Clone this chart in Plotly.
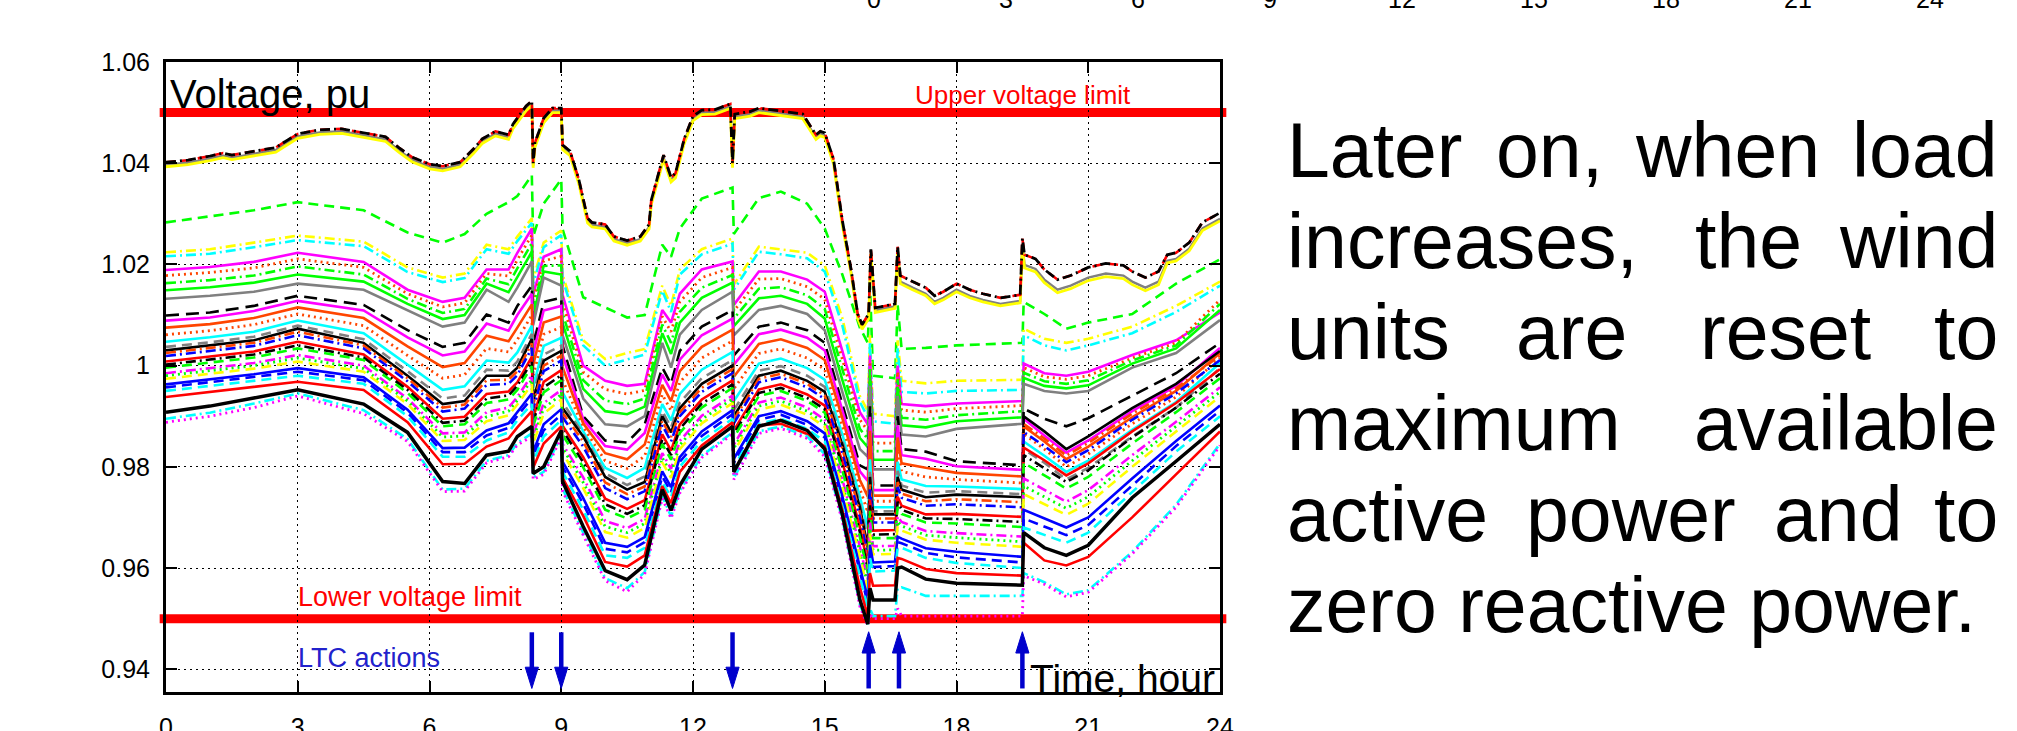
import plotly.graph_objects as go

# ---------------- data ----------------
LTC_DOWN = [8.33, 9.0, 12.9]
LTC_UP = [16.0, 16.69, 19.5]
LIMITS = [0.95, 1.05]
Y_TICKS = [0.94, 0.96, 0.98, 1.0, 1.02, 1.04, 1.06]
Y_TICK_TEXT = ["0.94", "0.96", "0.98", "1", "1.02", "1.04", "1.06"]
X_TICKS = [0, 3, 6, 9, 12, 15, 18, 21, 24]
UPPER_TICK_TEXT = ["0", "3", "6", "9", "12", "15", "18", "21", "24"]

T_TOP = [0, 0.5, 1, 1.3, 1.5, 2, 2.5, 2.7, 3, 3.5,
         4, 4.5, 5, 5.3, 5.6, 6, 6.3, 6.7, 7, 7.2,
         7.5, 7.8, 7.9, 8.0, 8.2, 8.33, 8.36, 8.4, 8.6, 8.8,
         9.0, 9.03, 9.2, 9.4, 9.6, 9.7, 10.0, 10.2, 10.5, 10.8,
         11.0, 11.05, 11.33, 11.5, 11.6, 11.8, 12.0, 12.2, 12.5, 12.85,
         12.9, 12.95, 13.3, 13.5, 14.0, 14.5, 14.8, 14.9, 15.0, 15.2,
         15.4, 15.6, 15.75, 15.85, 16.0, 16.05, 16.15, 16.6, 16.66, 16.72,
         17.0, 17.3, 17.5, 17.7, 18.0, 18.3, 18.6, 19.0, 19.45, 19.5,
         19.55, 19.8, 20.0, 20.3, 20.6, 21.0, 21.4, 21.8, 22.0, 22.3,
         22.6, 22.8, 23.0, 23.3, 23.6, 24.0]

TOP_BLACK = [1.0402, 1.0406, 1.0414, 1.0420, 1.0416, 1.0423, 1.0431, 1.0442, 1.0458, 1.0466,
             1.0468, 1.0460, 1.0452, 1.0431, 1.0412, 1.0398, 1.0394, 1.0402, 1.0428, 1.0448,
             1.0463, 1.0456, 1.0477, 1.0489, 1.0513, 1.0523, 1.0400, 1.0440, 1.0489, 1.0509,
             1.0509, 1.0436, 1.0424, 1.0368, 1.0291, 1.0283, 1.0279, 1.0255, 1.0247, 1.0255,
             1.0279, 1.0327, 1.0416, 1.0372, 1.0380, 1.0448, 1.0493, 1.0505, 1.0506, 1.0517,
             1.0400, 1.0497, 1.0502, 1.0509, 1.0503, 1.0497, 1.0456, 1.0463, 1.0460, 1.0408,
             1.0287, 1.0190, 1.0102, 1.0081, 1.0102, 1.0230, 1.0114, 1.0122, 1.0235, 1.0178,
             1.0166, 1.0154, 1.0138, 1.0146, 1.0162, 1.0150, 1.0142, 1.0134, 1.0140, 1.0251,
             1.0219, 1.0211, 1.0190, 1.0170, 1.0178, 1.0194, 1.0202, 1.0198, 1.0186, 1.0174,
             1.0186, 1.0219, 1.0223, 1.0243, 1.0283, 1.0302]

TOP_GRAY = [1.0397, 1.0401, 1.0409, 1.0415, 1.0411, 1.0418, 1.0426, 1.0437, 1.0453, 1.0461,
            1.0463, 1.0455, 1.0447, 1.0426, 1.0407, 1.0393, 1.0389, 1.0397, 1.0423, 1.0443,
            1.0458, 1.0451, 1.0472, 1.0484, 1.0508, 1.0518, 1.0395, 1.0435, 1.0484, 1.0504,
            1.0504, 1.0431, 1.0419, 1.0363, 1.0286, 1.0278, 1.0274, 1.0250, 1.0242, 1.0250,
            1.0274, 1.0322, 1.0411, 1.0367, 1.0375, 1.0443, 1.0488, 1.0500, 1.0501, 1.0512,
            1.0395, 1.0492, 1.0497, 1.0504, 1.0498, 1.0492, 1.0451, 1.0458, 1.0455, 1.0403,
            1.0282, 1.0185, 1.0097, 1.0076, 1.0097, 1.0225, 1.0109, 1.0117, 1.0230, 1.0166,
            1.0154, 1.0142, 1.0126, 1.0134, 1.0150, 1.0138, 1.0130, 1.0122, 1.0128, 1.0240,
            1.0199, 1.0191, 1.0170, 1.0150, 1.0158, 1.0174, 1.0182, 1.0178, 1.0166, 1.0154,
            1.0166, 1.0207, 1.0211, 1.0231, 1.0271, 1.0290]

TOP_YELLOW = [1.0393, 1.0397, 1.0405, 1.0411, 1.0407, 1.0414, 1.0422, 1.0433, 1.0449, 1.0457,
              1.0459, 1.0451, 1.0443, 1.0422, 1.0403, 1.0389, 1.0385, 1.0393, 1.0419, 1.0439,
              1.0454, 1.0447, 1.0468, 1.0480, 1.0504, 1.0514, 1.0391, 1.0431, 1.0480, 1.0500,
              1.0500, 1.0427, 1.0415, 1.0359, 1.0282, 1.0274, 1.0270, 1.0246, 1.0238, 1.0246,
              1.0270, 1.0318, 1.0407, 1.0363, 1.0371, 1.0439, 1.0484, 1.0496, 1.0497, 1.0508,
              1.0391, 1.0488, 1.0493, 1.0500, 1.0494, 1.0488, 1.0447, 1.0454, 1.0451, 1.0399,
              1.0278, 1.0181, 1.0093, 1.0072, 1.0093, 1.0221, 1.0105, 1.0113, 1.0226, 1.0162,
              1.0150, 1.0138, 1.0122, 1.0130, 1.0146, 1.0134, 1.0126, 1.0118, 1.0124, 1.0235,
              1.0193, 1.0185, 1.0164, 1.0144, 1.0152, 1.0168, 1.0176, 1.0172, 1.0160, 1.0148,
              1.0160, 1.0203, 1.0207, 1.0227, 1.0267, 1.0286]

TL = [0, 1, 2, 3, 4.5, 5.5, 6.3, 6.8, 7.3, 7.8,
      8.0, 8.33, 8.36, 8.6, 9.0, 9.03, 9.5, 10.0, 10.5, 10.9,
      11.3, 11.5, 11.7, 12.2, 12.9, 12.93, 13.5, 14.0, 14.6, 15.0,
      15.4, 15.8, 15.98, 16.03, 16.1, 16.6, 16.66, 16.75, 17.3, 18.0,
      19.5, 19.53, 20.0, 20.5, 21.0, 22.0, 23.0, 24.0]

GREEN_DASH = [1.0283, 1.0295, 1.0307, 1.0323, 1.0307, 1.0263, 1.0243, 1.0260, 1.0300, 1.0323,
              1.0335, 1.0376, 1.0255, 1.0320, 1.0368, 1.0270, 1.0135, 1.0115, 1.0095, 1.0100,
              1.0239, 1.0215, 1.0271, 1.0330, 1.0352, 1.0260, 1.0331, 1.0344, 1.0320, 1.0271,
              1.0180, 1.0075, 1.0045, 1.0160, 0.9980, 0.9975, 1.0120, 1.0033, 1.0035, 1.0040,
              1.0045, 1.0126, 1.0102, 1.0073, 1.0085, 1.0102, 1.0162, 1.0210]
YELLOW_DD = [1.0224, 1.0230, 1.0243, 1.0257, 1.0245, 1.0194, 1.0174, 1.0182, 1.0239, 1.0230,
             1.0255, 1.0291, 1.0170, 1.0243, 1.0267, 1.0180, 1.0050, 1.0013, 1.0025, 1.0033,
             1.0158, 1.0118, 1.0190, 1.0230, 1.0251, 1.0160, 1.0235, 1.0230, 1.0223, 1.0198,
             1.0094, 0.9940, 0.9910, 1.0060, 0.9905, 0.9900, 1.0050, 0.9970, 0.9965, 0.9970,
             0.9972, 1.0073, 1.0053, 1.0045, 1.0053, 1.0077, 1.0118, 1.0166]
CYAN_DD = [1.0216, 1.0221, 1.0234, 1.0248, 1.0236, 1.0185, 1.0165, 1.0173, 1.0230, 1.0221,
           1.0246, 1.0282, 1.0161, 1.0234, 1.0258, 1.0171, 1.0040, 1.0000, 1.0012, 1.0022,
           1.0148, 1.0106, 1.0180, 1.0220, 1.0241, 1.0150, 1.0225, 1.0220, 1.0212, 1.0186,
           1.0080, 0.9928, 0.9898, 1.0048, 0.9890, 0.9885, 1.0035, 0.9948, 0.9945, 0.9950,
           0.9952, 1.0060, 1.0040, 1.0030, 1.0040, 1.0064, 1.0106, 1.0158]
MAGENTA_A = [1.0189, 1.0195, 1.0205, 1.0223, 1.0205, 1.0150, 1.0126, 1.0134, 1.0190, 1.0190,
             1.0223, 1.0271, 1.0140, 1.0215, 1.0230, 1.0140, 1.0000, 0.9970, 0.9960, 0.9964,
             1.0110, 1.0085, 1.0142, 1.0190, 1.0206, 1.0120, 1.0186, 1.0186, 1.0170, 1.0146,
             1.0029, 0.9908, 0.9884, 1.0020, 0.9860, 0.9860, 1.0000, 0.9924, 0.9920, 0.9925,
             0.9930, 1.0004, 0.9985, 0.9980, 0.9988, 1.0021, 1.0050, 1.0105]
ORANGE_DOT_A = [1.0178, 1.0184, 1.0193, 1.0211, 1.0194, 1.0142, 1.0116, 1.0124, 1.0182, 1.0177,
                1.0209, 1.0258, 1.0128, 1.0207, 1.0216, 1.0124, 0.9987, 0.9953, 0.9944, 0.9951,
                1.0097, 1.0067, 1.0126, 1.0174, 1.0194, 1.0108, 1.0171, 1.0172, 1.0156, 1.0131,
                1.0013, 0.9893, 0.9871, 1.0008, 0.9847, 0.9847, 0.9988, 0.9912, 0.9908, 0.9915,
                0.9921, 0.9996, 0.9978, 0.9973, 0.9980, 1.0015, 1.0045, 1.0130]
GREEN_DD = [1.0163, 1.0169, 1.0178, 1.0196, 1.0180, 1.0132, 1.0104, 1.0112, 1.0172, 1.0161,
            1.0192, 1.0242, 1.0113, 1.0197, 1.0198, 1.0104, 0.9971, 0.9931, 0.9924, 0.9935,
            1.0081, 1.0045, 1.0106, 1.0154, 1.0179, 1.0093, 1.0152, 1.0155, 1.0139, 1.0112,
            0.9993, 0.9875, 0.9855, 0.9993, 0.9831, 0.9831, 0.9973, 0.9897, 0.9893, 0.9902,
            0.9910, 0.9986, 0.9969, 0.9964, 0.9971, 1.0010, 1.0040, 1.0122]
GREEN_SOLID = [1.0149, 1.0155, 1.0164, 1.0180, 1.0166, 1.0122, 1.0092, 1.0100, 1.0162, 1.0145,
               1.0175, 1.0225, 1.0098, 1.0186, 1.0180, 1.0084, 0.9954, 0.9910, 0.9904, 0.9919,
               1.0064, 1.0023, 1.0085, 1.0134, 1.0164, 1.0078, 1.0133, 1.0138, 1.0122, 1.0093,
               0.9972, 0.9857, 0.9839, 0.9978, 0.9814, 0.9814, 0.9958, 0.9882, 0.9878, 0.9890,
               0.9898, 0.9976, 0.9960, 0.9955, 0.9961, 1.0004, 1.0034, 1.0110]
GRAY_SOLID = [1.0132, 1.0138, 1.0146, 1.0162, 1.0150, 1.0110, 1.0077, 1.0085, 1.0150, 1.0126,
              1.0154, 1.0206, 1.0080, 1.0174, 1.0158, 1.0060, 0.9935, 0.9884, 0.9880, 0.9900,
              1.0045, 0.9996, 1.0061, 1.0110, 1.0146, 1.0060, 1.0110, 1.0118, 1.0102, 1.0070,
              0.9948, 0.9835, 0.9820, 0.9960, 0.9795, 0.9795, 0.9940, 0.9864, 0.9860, 0.9875,
              0.9885, 0.9964, 0.9950, 0.9945, 0.9950, 0.9996, 1.0025, 1.0090]
BLACK_DASH = [1.0099, 1.0105, 1.0118, 1.0138, 1.0120, 1.0070, 1.0037, 1.0045, 1.0101, 1.0085,
              1.0118, 1.0158, 1.0040, 1.0126, 1.0134, 1.0040, 0.9900, 0.9852, 0.9848, 0.9884,
              0.9996, 0.9964, 1.0029, 1.0077, 1.0110, 1.0020, 1.0077, 1.0085, 1.0070, 1.0045,
              0.9924, 0.9803, 0.9795, 0.9920, 0.9763, 0.9763, 0.9900, 0.9835, 0.9830, 0.9811,
              0.9803, 0.9915, 0.9895, 0.9880, 0.9896, 0.9940, 0.9985, 1.0045]
MAGENTA_B = [1.0089, 1.0095, 1.0108, 1.0128, 1.0109, 1.0056, 1.0020, 1.0028, 1.0083, 1.0069,
             1.0100, 1.0142, 1.0023, 1.0109, 1.0118, 1.0021, 0.9894, 0.9841, 0.9834, 0.9867,
             0.9982, 0.9950, 1.0012, 1.0060, 1.0093, 1.0002, 1.0062, 1.0071, 1.0055, 1.0030,
             0.9912, 0.9791, 0.9772, 0.9899, 0.9754, 0.9754, 0.9882, 0.9823, 0.9816, 0.9801,
             0.9794, 0.9895, 0.9862, 0.9828, 0.9852, 0.9910, 0.9960, 1.0035]
ORANGE_SOLID = [1.0075, 1.0082, 1.0094, 1.0115, 1.0094, 1.0038, 0.9997, 1.0005, 1.0059, 1.0048,
                1.0075, 1.0121, 1.0001, 1.0085, 1.0097, 0.9997, 0.9886, 0.9827, 0.9815, 0.9844,
                0.9962, 0.9930, 0.9989, 1.0037, 1.0071, 0.9978, 1.0043, 1.0052, 1.0035, 1.0011,
                0.9896, 0.9774, 0.9741, 0.9871, 0.9743, 0.9743, 0.9858, 0.9807, 0.9798, 0.9788,
                0.9781, 0.9880, 0.9850, 0.9815, 0.9840, 0.9898, 0.9950, 1.0025]
ORANGE_DOT_B = [1.0061, 1.0069, 1.0081, 1.0102, 1.0079, 1.0020, 0.9975, 0.9982, 1.0034, 1.0027,
                1.0051, 1.0100, 0.9979, 1.0062, 1.0076, 0.9972, 0.9878, 0.9812, 0.9797, 0.9821,
                0.9943, 0.9911, 0.9967, 1.0015, 1.0049, 0.9954, 1.0024, 1.0033, 1.0015, 0.9992,
                0.9880, 0.9757, 0.9710, 0.9843, 0.9732, 0.9732, 0.9834, 0.9791, 0.9780, 0.9775,
                0.9768, 0.9865, 0.9835, 0.9800, 0.9825, 0.9885, 0.9938, 1.0015]
CYAN_SOLID = [1.0047, 1.0056, 1.0067, 1.0089, 1.0064, 1.0002, 0.9952, 0.9959, 1.0010, 1.0006,
              1.0026, 1.0079, 0.9957, 1.0039, 1.0055, 0.9947, 0.9870, 0.9798, 0.9778, 0.9798,
              0.9924, 0.9892, 0.9944, 0.9992, 1.0027, 0.9930, 1.0004, 1.0014, 0.9995, 0.9972,
              0.9864, 0.9741, 0.9679, 0.9815, 0.9720, 0.9720, 0.9810, 0.9775, 0.9762, 0.9761,
              0.9756, 0.9850, 0.9822, 0.9790, 0.9812, 0.9873, 0.9928, 1.0005]
GRAY_DASH = [1.0037, 1.0046, 1.0057, 1.0079, 1.0052, 0.9989, 0.9935, 0.9941, 0.9992, 0.9990,
             1.0008, 1.0063, 0.9941, 1.0022, 1.0039, 0.9928, 0.9864, 0.9787, 0.9764, 0.9781,
             0.9910, 0.9878, 0.9927, 0.9975, 1.0011, 0.9912, 0.9990, 0.9999, 0.9980, 0.9958,
             0.9852, 0.9728, 0.9655, 0.9794, 0.9712, 0.9712, 0.9792, 0.9763, 0.9749, 0.9752,
             0.9746, 0.9835, 0.9808, 0.9775, 0.9798, 0.9860, 0.9917, 0.9995]
BLACK_SOLID = [1.0030, 1.0040, 1.0050, 1.0073, 1.0045, 0.9980, 0.9924, 0.9930, 0.9980, 0.9980,
               0.9996, 1.0053, 0.9930, 1.0010, 1.0029, 0.9916, 0.9860, 0.9780, 0.9755, 0.9770,
               0.9900, 0.9868, 0.9916, 0.9964, 1.0000, 0.9900, 0.9980, 0.9990, 0.9970, 0.9948,
               0.9844, 0.9720, 0.9640, 0.9780, 0.9706, 0.9706, 0.9780, 0.9755, 0.9740, 0.9745,
               0.9740, 0.9900, 0.9870, 0.9835, 0.9860, 0.9916, 0.9964, 1.0029]
ORANGE_DD = [1.0025, 1.0035, 1.0045, 1.0067, 1.0040, 0.9975, 0.9917, 0.9923, 0.9971, 0.9972,
             0.9989, 1.0044, 0.9922, 1.0000, 1.0020, 0.9907, 0.9850, 0.9769, 0.9746, 0.9761,
             0.9891, 0.9859, 0.9908, 0.9956, 0.9993, 0.9893, 0.9974, 0.9984, 0.9964, 0.9941,
             0.9836, 0.9710, 0.9632, 0.9769, 0.9698, 0.9698, 0.9770, 0.9747, 0.9732, 0.9736,
             0.9730, 0.9885, 0.9856, 0.9822, 0.9847, 0.9905, 0.9955, 1.0020]
BLUE_DD = [1.0019, 1.0029, 1.0039, 1.0060, 1.0034, 0.9969, 0.9909, 0.9915, 0.9962, 0.9964,
           0.9981, 1.0035, 0.9913, 0.9989, 1.0010, 0.9898, 0.9840, 0.9758, 0.9736, 0.9752,
           0.9882, 0.9850, 0.9900, 0.9948, 0.9985, 0.9886, 0.9967, 0.9977, 0.9957, 0.9934,
           0.9827, 0.9700, 0.9623, 0.9758, 0.9690, 0.9690, 0.9760, 0.9739, 0.9723, 0.9726,
           0.9720, 0.9869, 0.9841, 0.9809, 0.9833, 0.9893, 0.9945, 1.0011]
RED_A = [1.0008, 1.0018, 1.0028, 1.0047, 1.0022, 0.9958, 0.9895, 0.9899, 0.9944, 0.9949,
         0.9967, 1.0017, 0.9896, 0.9968, 0.9991, 0.9881, 0.9819, 0.9737, 0.9717, 0.9734,
         0.9864, 0.9832, 0.9884, 0.9933, 0.9971, 0.9872, 0.9953, 0.9963, 0.9943, 0.9921,
         0.9810, 0.9681, 0.9606, 0.9735, 0.9674, 0.9675, 0.9741, 0.9723, 0.9706, 0.9707,
         0.9701, 0.9838, 0.9813, 0.9783, 0.9807, 0.9870, 0.9926, 0.9993]
BLACK_DD = [1.0002, 1.0012, 1.0022, 1.0040, 1.0016, 0.9952, 0.9887, 0.9891, 0.9935, 0.9941,
            0.9960, 1.0008, 0.9888, 0.9957, 0.9981, 0.9872, 0.9809, 0.9726, 0.9707, 0.9724,
            0.9854, 0.9823, 0.9875, 0.9925, 0.9963, 0.9865, 0.9946, 0.9956, 0.9936, 0.9914,
            0.9801, 0.9671, 0.9598, 0.9724, 0.9666, 0.9667, 0.9731, 0.9715, 0.9698, 0.9697,
            0.9691, 0.9823, 0.9798, 0.9770, 0.9793, 0.9858, 0.9917, 0.9984]
GREEN_DASH_B = [0.9996, 1.0006, 1.0016, 1.0034, 1.0011, 0.9946, 0.9880, 0.9884, 0.9926, 0.9933,
                0.9952, 0.9999, 0.9880, 0.9947, 0.9971, 0.9863, 0.9799, 0.9715, 0.9698, 0.9715,
                0.9845, 0.9814, 0.9867, 0.9917, 0.9956, 0.9858, 0.9940, 0.9950, 0.9930, 0.9907,
                0.9793, 0.9661, 0.9590, 0.9713, 0.9659, 0.9659, 0.9721, 0.9707, 0.9690, 0.9688,
                0.9681, 0.9808, 0.9784, 0.9757, 0.9780, 0.9846, 0.9908, 0.9975]
MAGENTA_DD = [0.9985, 0.9995, 1.0005, 1.0021, 1.0000, 0.9935, 0.9866, 0.9868, 0.9908, 0.9917,
              0.9938, 0.9981, 0.9863, 0.9926, 0.9952, 0.9845, 0.9779, 0.9693, 0.9679, 0.9697,
              0.9827, 0.9796, 0.9851, 0.9901, 0.9941, 0.9844, 0.9927, 0.9937, 0.9917, 0.9893,
              0.9776, 0.9642, 0.9573, 0.9690, 0.9643, 0.9644, 0.9702, 0.9691, 0.9673, 0.9669,
              0.9662, 0.9777, 0.9755, 0.9731, 0.9754, 0.9823, 0.9889, 0.9957]
GREEN_DOT = [0.9980, 0.9990, 1.0000, 1.0015, 0.9994, 0.9930, 0.9859, 0.9861, 0.9899, 0.9910,
             0.9931, 0.9972, 0.9855, 0.9916, 0.9943, 0.9837, 0.9769, 0.9682, 0.9670, 0.9688,
             0.9818, 0.9787, 0.9843, 0.9894, 0.9934, 0.9837, 0.9920, 0.9930, 0.9910, 0.9886,
             0.9768, 0.9632, 0.9565, 0.9679, 0.9635, 0.9636, 0.9692, 0.9683, 0.9665, 0.9660,
             0.9652, 0.9762, 0.9741, 0.9718, 0.9741, 0.9812, 0.9880, 0.9948]
YELLOW_DASH = [0.9974, 0.9984, 0.9994, 1.0008, 0.9988, 0.9924, 0.9851, 0.9853, 0.9890, 0.9902,
               0.9923, 0.9963, 0.9846, 0.9905, 0.9933, 0.9828, 0.9758, 0.9671, 0.9660, 0.9679,
               0.9809, 0.9778, 0.9835, 0.9886, 0.9926, 0.9830, 0.9913, 0.9923, 0.9903, 0.9879,
               0.9759, 0.9622, 0.9556, 0.9668, 0.9627, 0.9628, 0.9682, 0.9674, 0.9656, 0.9650,
               0.9642, 0.9746, 0.9726, 0.9705, 0.9727, 0.9800, 0.9870, 0.9939]
BLUE_SOLID = [0.9963, 0.9973, 0.9983, 0.9995, 0.9977, 0.9913, 0.9837, 0.9838, 0.9872, 0.9886,
              0.9909, 0.9945, 0.9829, 0.9884, 0.9914, 0.9810, 0.9738, 0.9650, 0.9642, 0.9661,
              0.9791, 0.9760, 0.9819, 0.9870, 0.9912, 0.9816, 0.9900, 0.9910, 0.9890, 0.9866,
              0.9742, 0.9602, 0.9539, 0.9646, 0.9611, 0.9613, 0.9662, 0.9658, 0.9639, 0.9632,
              0.9622, 0.9715, 0.9698, 0.9680, 0.9700, 0.9777, 0.9851, 0.9921]
BLUE_DASH = [0.9957, 0.9967, 0.9977, 0.9988, 0.9971, 0.9907, 0.9829, 0.9829, 0.9862, 0.9877,
             0.9901, 0.9935, 0.9820, 0.9872, 0.9903, 0.9800, 0.9727, 0.9638, 0.9631, 0.9651,
             0.9781, 0.9750, 0.9810, 0.9861, 0.9904, 0.9808, 0.9893, 0.9903, 0.9883, 0.9858,
             0.9733, 0.9591, 0.9530, 0.9633, 0.9602, 0.9604, 0.9651, 0.9649, 0.9630, 0.9621,
             0.9611, 0.9698, 0.9682, 0.9665, 0.9685, 0.9764, 0.9841, 0.9911]
CYAN_DASH = [0.9950, 0.9960, 0.9970, 0.9980, 0.9964, 0.9900, 0.9820, 0.9820, 0.9852, 0.9868,
             0.9892, 0.9924, 0.9810, 0.9860, 0.9892, 0.9790, 0.9715, 0.9625, 0.9620, 0.9640,
             0.9770, 0.9740, 0.9800, 0.9852, 0.9895, 0.9800, 0.9885, 0.9895, 0.9875, 0.9850,
             0.9723, 0.9580, 0.9520, 0.9620, 0.9593, 0.9595, 0.9640, 0.9640, 0.9620, 0.9610,
             0.9600, 0.9680, 0.9665, 0.9650, 0.9670, 0.9750, 0.9830, 0.9900]
RED_B = [0.9938, 0.9948, 0.9958, 0.9968, 0.9952, 0.9888, 0.9805, 0.9806, 0.9840, 0.9856,
         0.9878, 0.9910, 0.9798, 0.9846, 0.9880, 0.9778, 0.9703, 0.9612, 0.9603, 0.9625,
         0.9762, 0.9728, 0.9790, 0.9842, 0.9888, 0.9790, 0.9882, 0.9885, 0.9865, 0.9840,
         0.9715, 0.9562, 0.9505, 0.9590, 0.9565, 0.9566, 0.9620, 0.9618, 0.9598, 0.9590,
         0.9585, 0.9650, 0.9615, 0.9605, 0.9622, 0.9700, 0.9785, 0.9870]
BLACK_BOTTOM = [0.9908, 0.9920, 0.9936, 0.9952, 0.9924, 0.9868, 0.9771, 0.9767, 0.9823, 0.9831,
                0.9860, 0.9880, 0.9787, 0.9800, 0.9872, 0.9771, 0.9682, 0.9595, 0.9577, 0.9606,
                0.9755, 0.9714, 0.9763, 0.9835, 0.9880, 0.9790, 0.9880, 0.9892, 0.9872, 0.9835,
                0.9706, 0.9537, 0.9489, 0.9560, 0.9537, 0.9537, 0.9600, 0.9602, 0.9578, 0.9570,
                0.9566, 0.9670, 0.9640, 0.9625, 0.9645, 0.9739, 0.9811, 0.9884]
CYAN_BOTTOM = [0.9895, 0.9907, 0.9925, 0.9945, 0.9912, 0.9855, 0.9755, 0.9757, 0.9812, 0.9823,
               0.9847, 0.9866, 0.9779, 0.9790, 0.9862, 0.9757, 0.9670, 0.9580, 0.9560, 0.9592,
               0.9742, 0.9702, 0.9752, 0.9822, 0.9868, 0.9778, 0.9870, 0.9880, 0.9860, 0.9825,
               0.9697, 0.9528, 0.9489, 0.9520, 0.9505, 0.9505, 0.9560, 0.9562, 0.9545, 0.9545,
               0.9545, 0.9590, 0.9572, 0.9548, 0.9556, 0.9632, 0.9725, 0.9846]
MAGENTA_BOTTOM = [0.9888, 0.9900, 0.9917, 0.9940, 0.9905, 0.9850, 0.9751, 0.9752, 0.9808, 0.9820,
                  0.9843, 0.9860, 0.9775, 0.9785, 0.9858, 0.9752, 0.9665, 0.9575, 0.9553, 0.9588,
                  0.9738, 0.9698, 0.9748, 0.9818, 0.9865, 0.9775, 0.9866, 0.9876, 0.9856, 0.9820,
                  0.9693, 0.9524, 0.9486, 0.9510, 0.9500, 0.9500, 0.9520, 0.9505, 0.9505, 0.9505,
                  0.9505, 0.9585, 0.9568, 0.9543, 0.9552, 0.9628, 0.9720, 0.9842]

# ---------------- styles ----------------
GREEN, YELLOW, CYAN, MAGENTA = "#00ff00", "#ffff00", "#00ffff", "#ff00ff"
ORANGE, GRAY, BLACK, BLUE, RED = "#ff4500", "#808080", "#000000", "#0000ff", "#ff0000"
DASHES = {"solid": "solid", "dash": "10px,6px", "dot": "2px,4px",
          "dashdot": "10px,4px,2px,4px", "long": "13px,7px"}
LW = 2.6

LOWER = [
    (GREEN_DASH, GREEN, "dash", LW), (YELLOW_DD, YELLOW, "dashdot", LW),
    (CYAN_DD, CYAN, "dashdot", LW), (MAGENTA_A, MAGENTA, "solid", LW),
    (ORANGE_DOT_A, ORANGE, "dot", 2.8), (GREEN_DD, GREEN, "dashdot", LW),
    (GREEN_SOLID, GREEN, "solid", LW), (GRAY_SOLID, GRAY, "solid", LW),
    (BLACK_DASH, BLACK, "long", LW), (MAGENTA_B, MAGENTA, "solid", LW),
    (ORANGE_SOLID, ORANGE, "solid", LW), (ORANGE_DOT_B, ORANGE, "dot", 2.8),
    (CYAN_SOLID, CYAN, "solid", LW), (GRAY_DASH, GRAY, "dash", LW),
    (BLACK_SOLID, BLACK, "solid", LW), (ORANGE_DD, ORANGE, "dashdot", LW),
    (BLUE_DD, BLUE, "dashdot", LW), (RED_A, RED, "solid", LW),
    (BLACK_DD, BLACK, "dashdot", LW), (GREEN_DASH_B, GREEN, "dash", LW),
    (MAGENTA_DD, MAGENTA, "dashdot", LW), (GREEN_DOT, GREEN, "dot", 2.8),
    (YELLOW_DASH, YELLOW, "dash", LW), (BLUE_SOLID, BLUE, "solid", LW),
    (BLUE_DASH, BLUE, "dash", LW), (CYAN_DASH, CYAN, "dash", LW),
    (RED_B, RED, "solid", LW), (CYAN_BOTTOM, CYAN, "dashdot", LW),
    (MAGENTA_BOTTOM, MAGENTA, "dot", 2.8), (BLACK_BOTTOM, BLACK, "solid", 3.5),
]
TOP = [
    (TOP_GRAY, GRAY, "solid", 2.4), (TOP_YELLOW, YELLOW, "solid", 2.8),
    (TOP_BLACK, RED, "dash", 2.6), (TOP_BLACK, BLACK, "dashdot", 2.8),
]

for vals, *_ in LOWER:
    assert len(vals) == len(TL), len(vals)
for vals, *_ in TOP:
    assert len(vals) == len(T_TOP), len(vals)

fig = go.Figure()
for vals, color, dash, w in LOWER:
    fig.add_trace(go.Scatter(x=TL, y=vals, mode="lines", hoverinfo="skip",
                             line=dict(color=color, dash=DASHES[dash], width=w)))
for vals, color, dash, w in TOP:
    fig.add_trace(go.Scatter(x=T_TOP, y=vals, mode="lines", hoverinfo="skip",
                             line=dict(color=color, dash=DASHES[dash], width=w)))

# plot box in pixels
L_PX, R_PX, T_PX, B_PX = 166, 1220, 62, 692
W, H = 2017, 731


def px_x(px):
    return (px - L_PX) / (R_PX - L_PX)


def px_y(py):
    return 1 - (py - T_PX) / (B_PX - T_PX)


shapes = []
for lim in LIMITS:
    shapes.append(dict(type="line", xref="paper", yref="y", x0=-0.006, x1=1.006,
                       y0=lim, y1=lim, line=dict(color=RED, width=9), layer="below"))

ARROW_BLUE = "#0000cc"
HALF = 0.15
for x in LTC_DOWN:
    shapes.append(dict(type="line", xref="x", yref="y", x0=x, x1=x, y0=0.9473, y1=0.9400,
                       line=dict(color=ARROW_BLUE, width=4.5)))
    shapes.append(dict(type="path", xref="x", yref="y",
                       path=f"M {x-HALF},0.9404 L {x+HALF},0.9404 L {x},0.9362 Z",
                       fillcolor=ARROW_BLUE, line=dict(color=ARROW_BLUE, width=1)))
for x in LTC_UP:
    shapes.append(dict(type="line", xref="x", yref="y", x0=x, x1=x, y0=0.9362, y1=0.9436,
                       line=dict(color=ARROW_BLUE, width=4.5)))
    shapes.append(dict(type="path", xref="x", yref="y",
                       path=f"M {x-HALF},0.9432 L {x+HALF},0.9432 L {x},0.9474 Z",
                       fillcolor=ARROW_BLUE, line=dict(color=ARROW_BLUE, width=1)))

FONT = "Liberation Sans, Arial, sans-serif"
ann = []
ann.append(dict(text="Voltage, pu", xref="paper", yref="paper", x=px_x(168), y=px_y(94),
                xanchor="left", yanchor="middle", showarrow=False,
                font=dict(family=FONT, size=40, color="black")))
ann.append(dict(text="Time, hour", xref="paper", yref="paper", x=px_x(1217), y=px_y(678),
                xanchor="right", yanchor="middle", showarrow=False,
                font=dict(family=FONT, size=39, color="black")))
ann.append(dict(text="Upper voltage limit", xref="x", yref="y", x=17.0, y=1.0534,
                xanchor="left", yanchor="middle", showarrow=False,
                font=dict(family=FONT, size=26, color=RED)))
ann.append(dict(text="Lower voltage limit", xref="x", yref="y", x=2.95, y=0.9543,
                xanchor="left", yanchor="middle", showarrow=False,
                font=dict(family=FONT, size=27, color=RED)))
ann.append(dict(text="LTC actions", xref="x", yref="y", x=2.95, y=0.9423,
                xanchor="left", yanchor="middle", showarrow=False,
                font=dict(family=FONT, size=27, color="#2222cc")))

# tick labels of the chart above (cut off at the top edge)
for i, lab in enumerate(UPPER_TICK_TEXT):
    ann.append(dict(text=lab, xref="paper", yref="paper", x=px_x(874 + 132 * i), y=px_y(-1),
                    xanchor="center", yanchor="middle", showarrow=False,
                    font=dict(family=FONT, size=25, color="black")))

# justified paragraph on the right
WORDS = [
    ("Later", 1285, "left", 150), ("on,", 1494, "left", 150), ("when", 1633, "left", 150),
    ("load", 2000, "right", 150),
    ("increases,", 1285, "left", 241), ("the", 1693, "left", 241), ("wind", 2000, "right", 241),
    ("units", 1285, "left", 332), ("are", 1514, "left", 332), ("reset", 1698, "left", 332),
    ("to", 2000, "right", 332),
    ("maximum", 1285, "left", 423), ("available", 2000, "right", 423),
    ("active", 1285, "left", 514), ("power", 1524, "left", 514), ("and", 1772, "left", 514),
    ("to", 2000, "right", 514),
    ("zero reactive power.", 1285, "left", 605),
]
for word, xp, anc, yp in WORDS:
    ann.append(dict(text=word, xref="paper", yref="paper", x=px_x(xp), y=px_y(yp),
                    xanchor=anc, yanchor="middle", showarrow=False,
                    font=dict(family=FONT, size=77, color="black")))

axis_common = dict(showline=True, linecolor="black", linewidth=3, mirror="ticks",
                   ticks="inside", ticklen=11, tickwidth=2, tickcolor="black",
                   showgrid=True, gridcolor="black", gridwidth=1.2, griddash="2px,4px",
                   zeroline=False, automargin=False,
                   tickfont=dict(family=FONT, size=25, color="black"))

fig.update_layout(
    width=W, height=H,
    margin=dict(l=L_PX, r=W - R_PX, t=T_PX, b=H - B_PX, pad=0, autoexpand=False),
    paper_bgcolor="white", plot_bgcolor="white",
    showlegend=False,
    shapes=shapes, annotations=ann,
    xaxis=dict(range=[0, 24], tickvals=X_TICKS, ticklabelstandoff=11, **axis_common),
    yaxis=dict(range=[0.9355, 1.06], tickvals=Y_TICKS, ticktext=Y_TICK_TEXT,
               ticklabelstandoff=8, **axis_common),
)

fig.write_html(
    "out.html",
    config={"displayModeBar": False},
    post_script=("document.body.style.margin='0px';"
                 "document.body.style.padding='0px';"
                 "document.documentElement.style.overflow='hidden';"
                 "document.body.style.overflow='hidden';"),
)
